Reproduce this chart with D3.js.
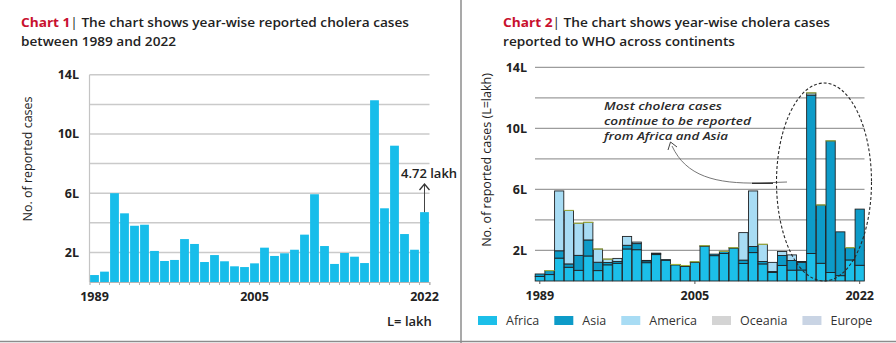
<!DOCTYPE html>
<html>
<head>
<meta charset="utf-8">
<script src="https://cdn.jsdelivr.net/npm/d3@7"></script>
<style>
  html, body { margin: 0; padding: 0; background: #fff; }
  svg { display: block; font-family: "Open Sans", "Noto Sans", sans-serif; }
</style>
</head>
<body>
<svg id="chart" width="896" height="343"></svg>
<script>
// Year-wise reported cholera cases, values in lakh (1 lakh = 100,000)
const years = [1989,1990,1991,1992,1993,1994,1995,1996,1997,1998,1999,2000,2001,2002,2003,2004,2005,
               2006,2007,2008,2009,2010,2011,2012,2013,2014,2015,2016,2017,2018,2019,2020,2021,2022];

const totalCases = [0.47,0.70,6.00,4.64,3.80,3.87,2.10,1.42,1.49,2.90,2.57,1.35,1.82,1.40,1.06,1.01,1.26,
                    2.32,1.76,1.94,2.18,3.20,5.93,2.43,1.22,1.96,1.71,1.28,12.28,4.98,9.21,3.24,2.18,4.72];

// Cases reported to WHO, by continent
const africa  = [0.30,0.42,1.50,0.90,0.70,1.64,0.68,1.06,1.16,2.10,2.05,1.20,1.73,1.36,1.06,0.95,1.22,
                 2.28,1.66,1.80,2.16,1.15,1.86,1.12,0.56,1.02,0.71,0.72,1.80,1.16,0.56,0.35,1.38,1.03];
const asia    = [0.16,0.26,0.48,0.22,0.98,1.05,0.55,0.15,0.12,0.24,0.40,0.12,0.08,0.04,0.02,0.06,0.04,
                 0.03,0.10,0.14,0.02,0.22,0.40,0.16,0.06,0.65,0.63,0.50,10.38,3.82,8.62,2.87,0.80,3.68];
const america = [0.00,0.00,3.92,3.50,2.10,1.15,0.86,0.22,0.20,0.58,0.10,0.03,0.01,0.00,0.00,0.00,0.00,
                 0.00,0.00,0.00,0.00,1.80,3.64,1.12,0.60,0.26,0.37,0.06,0.14,0.00,0.00,0.00,0.00,0.00];
const oceania = [0.00,0.00,0.00,0.00,0.00,0.00,0.00,0.00,0.00,0.00,0.00,0.00,0.00,0.00,0.00,0.00,0.00,
                 0.00,0.00,0.00,0.00,0.00,0.00,0.00,0.00,0.00,0.00,0.00,0.00,0.00,0.00,0.00,0.00,0.00];
const europe  = [0.00,0.01,0.00,0.01,0.01,0.01,0.01,0.01,0.00,0.00,0.00,0.00,0.00,0.00,0.01,0.01,0.01,
                 0.01,0.00,0.01,0.01,0.00,0.00,0.01,0.00,0.00,0.00,0.00,0.01,0.01,0.01,0.00,0.01,0.00];

const continents = ["Africa","Asia","America","Oceania","Europe"];
const continentColors = ["#1cbfe9","#0d9bc8","#a8dcf4","#d4d4d4","#c9d4e4"];

const axisTicks = [2,6,10,14];
const gridTicks = [2,4,6,8,10,12,14];
const yearLabels = [1989,2005,2022];

const svg = d3.select("#chart");

// ---------- panel frame ----------
svg.append("line").attr("x1",461).attr("x2",461).attr("y1",0).attr("y2",343)
  .attr("stroke","#8c8c8c").attr("stroke-width",1.5);
svg.append("line").attr("x1",0).attr("x2",896).attr("y1",341.5).attr("y2",341.5)
  .attr("stroke","#8c8c8c").attr("stroke-width",1.5);

// ---------- titles ----------
function title(x, num, line1, line2, w1, w2) {
  const t1 = svg.append("text").attr("x", x).attr("y", 27)
    .attr("font-size", 13).attr("font-weight", 600).attr("fill", "#222")
    .attr("textLength", w1).attr("lengthAdjust", "spacingAndGlyphs");
  t1.append("tspan").attr("fill", "#c8102e").attr("font-weight", 700).text("Chart " + num);
  t1.append("tspan").attr("font-weight", 400).text("| ");
  t1.append("tspan").text(line1);
  svg.append("text").attr("x", x).attr("y", 46)
    .attr("font-size", 13).attr("font-weight", 600).attr("fill", "#222")
    .attr("textLength", w2).attr("lengthAdjust", "spacingAndGlyphs")
    .text(line2);
}
title(21, 1, "The chart shows year-wise reported cholera cases", "between 1989 and 2022", 388, 155);
title(503, 2, "The chart shows year-wise cholera cases", "reported to WHO across continents", 327, 232);

// ---------- Chart 1: total cases ----------
const xL = d3.scaleBand().domain(years).range([89.5, 429.5]).paddingInner(0.12).paddingOuter(0.06);
const yL = d3.scaleLinear().domain([0, 14]).range([282, 74.8]);

const gL = svg.append("g");
gL.selectAll("line.grid").data(gridTicks).join("line")
  .attr("x1", 89.5).attr("x2", 429.5)
  .attr("y1", d => yL(d)).attr("y2", d => yL(d))
  .attr("stroke", "#cacaca").attr("stroke-width", 1.5);
gL.append("line").attr("x1", 89.5).attr("x2", 89.5).attr("y1", yL(14)).attr("y2", yL(0))
  .attr("stroke", "#c4c4c4").attr("stroke-width", 1.2);

gL.selectAll("rect").data(years).join("rect")
  .attr("x", d => xL(d))
  .attr("width", xL.bandwidth())
  .attr("y", (d, i) => yL(totalCases[i]))
  .attr("height", (d, i) => yL(0) - yL(totalCases[i]))
  .attr("fill", "#17bdea");

// bottom axis with small ticks between years
const axL = d3.axisBottom(xL).tickSize(3).tickFormat(d => yearLabels.includes(d) ? d : "");
const axLg = gL.append("g").attr("transform", `translate(0,${yL(0)})`).call(axL);
axLg.select(".domain").attr("stroke", "#b5b5b5").attr("stroke-width", 1.2);
axLg.selectAll(".tick line").attr("stroke", "#b5b5b5").attr("transform", `translate(${xL.step()/2},0)`);
axLg.selectAll(".tick text").attr("font-size", 12.5).attr("font-weight", 700)
  .attr("fill", "#222").attr("y", 10).attr("font-family", "Open Sans, sans-serif");

gL.selectAll("text.ylab").data(axisTicks).join("text").attr("class", "ylab")
  .attr("x", 79).attr("y", d => yL(d)).attr("dy", "0.35em")
  .attr("text-anchor", "end").attr("font-size", 12.5).attr("font-weight", 700).attr("fill", "#222")
  .text(d => d + "L");

gL.append("text").attr("transform", "translate(32,159) rotate(-90)")
  .attr("text-anchor", "middle").attr("font-size", 12.5).attr("fill", "#222")
  .text("No. of reported cases");

gL.append("text").attr("x", 387).attr("y", 326).attr("font-size", 13).attr("font-weight", 600)
  .attr("fill", "#222").text("L= lakh");

// 2022 callout
{
  const i = years.indexOf(2022);
  const cx = xL(2022) + xL.bandwidth() / 2;
  const top = yL(totalCases[i]);
  gL.append("line").attr("x1", cx).attr("x2", cx).attr("y1", top).attr("y2", 184)
    .attr("stroke", "#444").attr("stroke-width", 1);
  gL.append("path").attr("d", `M${cx-5},${190} L${cx},${184} L${cx+5},${190}`)
    .attr("fill", "none").attr("stroke", "#333").attr("stroke-width", 1.3);
  gL.append("text").attr("x", 401).attr("y", 178).attr("font-size", 13).attr("font-weight", 600)
    .attr("fill", "#222").text(totalCases[i].toFixed(2) + " lakh");
}

// ---------- Chart 2: cases by continent ----------
const rows = years.map((y, i) => ({
  year: y, Africa: africa[i], Asia: asia[i], America: america[i], Oceania: oceania[i], Europe: europe[i]
}));
const stacked = d3.stack().keys(continents)(rows);

const xR = d3.scaleBand().domain(years).range([535, 864.5]).paddingInner(0.05).paddingOuter(0.02);
const yR = d3.scaleLinear().domain([0, 14]).range([281, 67.3]);
const color = d3.scaleOrdinal().domain(continents).range(continentColors);

const gR = svg.append("g");
gR.selectAll("line.grid").data(gridTicks).join("line")
  .attr("x1", 535).attr("x2", 864.5)
  .attr("y1", d => yR(d)).attr("y2", d => yR(d))
  .attr("stroke", "#9c9c9c").attr("stroke-width", 1.3);

gR.selectAll("g.series").data(stacked).join("g").attr("class", "series")
  .attr("fill", d => color(d.key))
  .attr("stroke", d => d.key === "Europe" ? "#9fae3c" : "#1f2224")
  .attr("stroke-width", 0.9)
  .selectAll("rect").data(d => d.filter(s => s[1] - s[0] > 0)).join("rect")
  .attr("x", d => xR(d.data.year))
  .attr("width", xR.bandwidth())
  .attr("y", d => yR(d[1]))
  .attr("height", d => Math.max(0.2, yR(d[0]) - yR(d[1])));

const axR = d3.axisBottom(xR).tickValues(yearLabels).tickSize(3).tickFormat(d => d);
const axRg = gR.append("g").attr("transform", `translate(0,${yR(0)})`).call(axR);
axRg.select(".domain").remove();
axRg.selectAll(".tick line").attr("stroke", "#555");
axRg.selectAll(".tick text").attr("font-size", 12.5).attr("font-weight", 700)
  .attr("fill", "#222").attr("y", 10).attr("font-family", "Open Sans, sans-serif");

gR.selectAll("text.ylab").data(axisTicks).join("text").attr("class", "ylab")
  .attr("x", 527).attr("y", d => yR(d)).attr("dy", "0.35em")
  .attr("text-anchor", "end").attr("font-size", 12.5).attr("font-weight", 700).attr("fill", "#222")
  .text(d => d + "L");

gR.append("text").attr("transform", "translate(491,160) rotate(-90)")
  .attr("text-anchor", "middle").attr("font-size", 12.5).attr("fill", "#222")
  .text("No. of reported cases (L=lakh)");

// annotation, one text per line
const noteLines = [
  { text: "Most cholera cases", width: 118 },
  { text: "continue to be reported", width: 147 },
  { text: "from Africa and Asia", width: 124 }
];
gR.selectAll("text.note").data(noteLines).join("text").attr("class", "note")
  .attr("x", 604).attr("y", (d, k) => 109.5 + k * 15)
  .attr("font-size", 11).attr("font-style", "italic").attr("font-weight", 600).attr("fill", "#2a2a2a")
  .attr("textLength", d => d.width).attr("lengthAdjust", "spacingAndGlyphs")
  .text(d => d.text);

gR.append("path").attr("d", "M787,182 L760,183 C715,184 686,176 672,146")
  .attr("fill", "none").attr("stroke", "#666").attr("stroke-width", 0.9);
gR.append("line").attr("x1", 752).attr("x2", 773).attr("y1", 183.3).attr("y2", 183.3)
  .attr("stroke", "#222").attr("stroke-width", 1.2);
gR.append("path").attr("d", "M668,150 L670.5,142 L677,147")
  .attr("fill", "none").attr("stroke", "#444").attr("stroke-width", 1);

// highlight around 2017-2022
gR.append("ellipse").attr("cx", 824).attr("cy", 182).attr("rx", 47.5).attr("ry", 99)
  .attr("fill", "none").attr("stroke", "#2a2a2a").attr("stroke-width", 1.1)
  .attr("stroke-dasharray", "3,2");

// legend
const legend = svg.append("g").attr("transform", "translate(478,316)");
let lx = 0;
continents.forEach((c, k) => {
  const g = legend.append("g").attr("transform", `translate(${lx},0)`);
  g.append("rect").attr("width", 19).attr("height", 9).attr("fill", continentColors[k]);
  const t = g.append("text").attr("x", 28).attr("y", 4.5).attr("dy", "0.35em")
    .attr("font-size", 12.5).attr("fill", "#333").text(c);
  lx += 28 + t.node().getComputedTextLength() + 15;
});
</script>
</body>
</html>
